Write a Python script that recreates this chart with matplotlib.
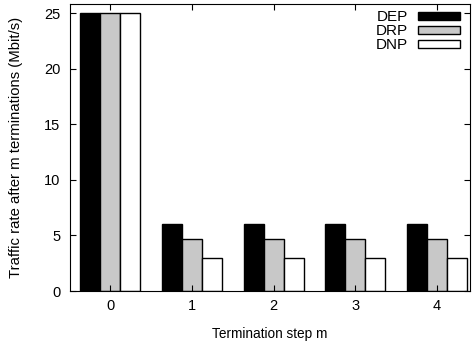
import matplotlib.pyplot as plt
import numpy as np

plt.rcParams['font.family'] = ['Liberation Sans', 'DejaVu Sans']

steps = [0, 1, 2, 3, 4]
dep = [25, 6, 6, 6, 6]
drp = [25, 4.7, 4.7, 4.7, 4.7]
dnp = [25, 3, 3, 3, 3]

fig = plt.figure(figsize=(4.77, 3.42), dpi=100)
ax = fig.add_axes([0.147, 0.149, 0.838, 0.839])

x = np.array(steps)
w = 0.245
ax.bar(x - w, dep, w, color='black', edgecolor='black', linewidth=1, label='DEP')
ax.bar(x, drp, w, color='#c8c8c8', edgecolor='black', linewidth=1, label='DRP')
ax.bar(x + w, dnp, w, color='white', edgecolor='black', linewidth=1, label='DNP')

ax.set_xlim(-0.49, 4.4)
ax.set_ylim(0, 25.8)
ax.set_xticks(steps)
ax.set_yticks([0, 5, 10, 15, 20, 25])
ax.tick_params(direction='in', top=True, right=True, length=4, labelsize=10.5)
ax.tick_params(axis='x', pad=6)
ax.tick_params(axis='y', pad=7)
ax.set_xlabel('Termination step m', fontsize=9.8)
ax.set_ylabel('Traffic rate after m terminations (Mbit/s)', fontsize=10.7)
ax.xaxis.set_label_coords(0.5, -0.126)
ax.yaxis.set_label_coords(-0.118, 0.5)

ax.legend(loc='upper right', bbox_to_anchor=(0.99, 1.0), frameon=False,
          markerfirst=False, fontsize=11,
          handlelength=2.75, handleheight=0.42, labelspacing=0.0,
          borderaxespad=0.2, borderpad=0.2, handletextpad=0.65)

plt.savefig('out.png', dpi=100)
